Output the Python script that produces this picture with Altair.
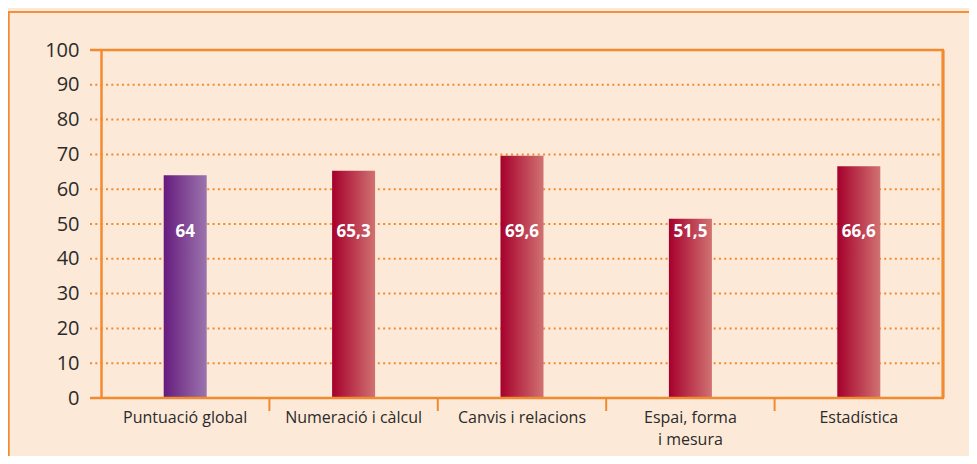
import altair as alt
import pandas as pd

categories = ["Puntuació global", "Numeració i càlcul", "Canvis i relacions", "Espai, forma|i mesura", "Estadística"]
values = [64, 65.3, 69.6, 51.5, 66.6]
grid_dotted = [10, 20, 30, 40, 50, 60, 70, 80, 90]
grid_solid = [0, 100]
y_ticks = [0, 10, 20, 30, 40, 50, 60, 70, 80, 90, 100]

ORANGE = "#f28a30"
BG = "#fde9d7"
FONT = "Open Sans"
W, H = 842, 348

df = pd.DataFrame({"cat": categories, "value": values})
df["first"] = [i == 0 for i in range(len(categories))]

purple = {"gradient": "linear", "x1": 0, "x2": 1, "y1": 0, "y2": 0,
          "stops": [{"offset": 0, "color": "#661c7e"}, {"offset": 1, "color": "#9c74ad"}]}
red = {"gradient": "linear", "x1": 0, "x2": 1, "y1": 0, "y2": 0,
       "stops": [{"offset": 0, "color": "#a6002c"}, {"offset": 1, "color": "#d07272"}]}

xscale = alt.Scale(domain=categories, paddingInner=0, paddingOuter=0)
yscale = alt.Scale(domain=[0, 100])

x_axis = alt.Axis(title=None, labelAngle=0, ticks=False, domain=False,
                  labelFont=FONT, labelFontSize=16, labelColor="#2b2b2b",
                  labelPadding=11, labelLineHeight=22, labelBaseline="top",
                  labelExpr="split(datum.label, '|')")
y_axis = alt.Axis(title=None, values=y_ticks, grid=False, ticks=False,
                  domainColor=ORANGE, domainWidth=2.5,
                  labelFont=FONT, labelFontSize=20, labelColor="#2b2b2b",
                  labelPadding=22)

def X(field, **kw):
    return alt.X(field, sort=categories, scale=xscale, axis=x_axis, **kw)

def Y(field):
    return alt.Y(field, scale=yscale, axis=y_axis)

bars_p = alt.Chart(df).transform_filter("datum.first").mark_bar(size=43, color=purple).encode(
    x=X("cat:N"), y=Y("value:Q"))
bars_r = alt.Chart(df).transform_filter("!datum.first").mark_bar(size=43, color=red).encode(
    x=X("cat:N"), y=Y("value:Q"))

text = alt.Chart(df).transform_calculate(
    lbl="replace(toString(datum.value), '.', ',')", pos="48"
).mark_text(font=FONT, fontSize=17, fontWeight="bold", color="white", baseline="middle", dy=1).encode(
    x=X("cat:N"),
    y=Y("pos:Q"),
    text="lbl:N",
)

gdf = pd.DataFrame({"value": grid_dotted})
grid = alt.Chart(gdf).mark_rule(color=ORANGE, strokeWidth=2, strokeDash=[2, 3.33]).encode(
    y=Y("value:Q"),
    x=alt.value(-11), x2=alt.value(W),
)
sdf = pd.DataFrame({"value": grid_solid})
solid = alt.Chart(sdf).mark_rule(color=ORANGE, strokeWidth=2.5).encode(
    y=Y("value:Q"),
    x=alt.value(-11), x2=alt.value(W + 1),
)
right_border = alt.Chart(sdf).mark_rule(color=ORANGE, strokeWidth=2.7).encode(
    x=alt.value(W), y=alt.value(0), y2=alt.value(H),
)

tdf = pd.DataFrame({"cat": categories[1:]})
xticks = alt.Chart(tdf).mark_rule(color=ORANGE, strokeWidth=2).encode(
    x=X("cat:N", bandPosition=0),
    y=alt.value(H), y2=alt.value(H + 13),
)

page_top = alt.Chart(sdf).mark_rule(color=ORANGE, strokeWidth=1.5).encode(
    x=alt.value(-93), x2=alt.value(W + 30), y=alt.value(-38),
)
page_left = alt.Chart(sdf).mark_rule(color=ORANGE, strokeWidth=1.5).encode(
    x=alt.value(-92.3), y=alt.value(-38), y2=alt.value(H + 60),
)

chart = alt.layer(
    grid, bars_p, bars_r, solid, right_border, xticks, text, page_top, page_left
).properties(
    width=W, height=H,
    padding={"left": 93, "top": 42, "right": 26, "bottom": 58},
    autosize=alt.AutoSizeParams(type="none"),
    background=BG,
).configure_view(stroke=None)

chart.save("out.html", embed_options={"renderer": "svg", "actions": False})
